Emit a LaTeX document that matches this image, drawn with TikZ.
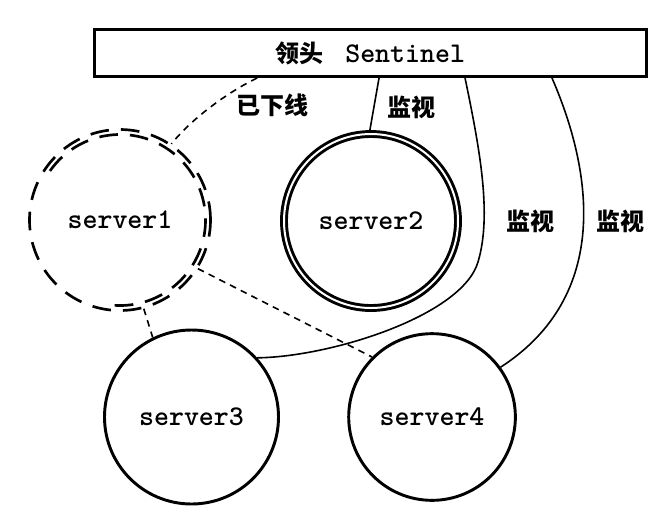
\documentclass[tikz,border=0pt]{standalone}
\usepackage{fontspec}
\newfontfamily\cjk{Noto Sans CJK SC}
\usepackage{tikz}
\usetikzlibrary{positioning}

\begin{document}
\begin{tikzpicture}[x=0.75pt,y=0.75pt,
  server/.style={circle,draw,line width=2.2pt,inner sep=0pt,font=\fontsize{21.4}{23}\selectfont\ttfamily\bfseries},
  watch/.style={line width=1.2pt},
  down/.style={line width=1.2pt,dash pattern=on 5pt off 4pt},
  tag/.style={font=\fontsize{18}{20}\selectfont\cjk\bfseries}]
  \useasboundingbox (0,0) rectangle (668,-526);
  \node(sentinel) [draw,line width=2.2pt,minimum width=414pt,minimum height=35.25pt,inner sep=0pt,font=\fontsize{21.4}{23}\selectfont\ttfamily\bfseries] at (370.5,-53){{\cjk\fontsize{18}{20}\selectfont\bfseries 领头}\hspace{0.75em}Sentinel};
  \node(s1) [server,line width=2pt,dash pattern=on 14pt off 9pt,minimum size=135.75pt] at (120,-220){server1};
  \node(s2) [server,double,double distance=1.5pt,minimum size=130.5pt] at (371,-221){server2};
  \node(s3) [server,minimum size=130.5pt] at (191.5,-417){server3};
  \node(s4) [server,minimum size=125pt,right of=s3,node distance=180.4pt]{server4};
  \node(off) [tag] at (272,-105){已下线};
  \node(w2) [tag] at (411,-107.5){监视};
  \node(w3) [tag] at (530,-221){监视};
  \node(w4) [tag,right of=w3,node distance=68pt]{监视};
  \draw[line width=2pt,dash pattern=on 14pt off 9pt] (s1.center) ++(145:85.5) arc[start angle=145,end angle=-100,radius=85.5];
  \draw[down] ([xshift=-85pt]sentinel.south) .. controls (232,-90) and (195,-115) .. (s1.56);
  \draw[watch] ([xshift=6.4pt]sentinel.south) -- (s2.91);
  \draw[watch] ([xshift=70.9pt]sentinel.south) .. controls (480,-150) and (492,-215) .. (478,-262) .. controls (462,-316) and (330,-357) .. (s3.42);
  \draw[watch] ([xshift=136.1pt]sentinel.south) .. controls (592,-170) and (612,-295) .. (s4.36);
  \draw[down] (s1.-75) -- (s3.116);
  \draw[down] (s1.-32) -- (s4.135);
\end{tikzpicture}
\end{document}
